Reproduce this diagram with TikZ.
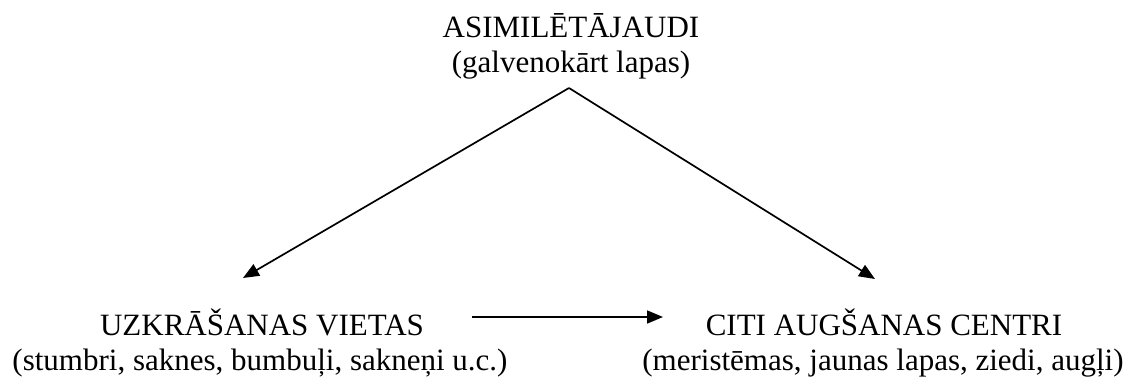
\documentclass[tikz,border=0pt]{standalone}
\usepackage{fontspec}
\setmainfont{Liberation Serif}
\usetikzlibrary{arrows.meta}
\tikzset{
  lbl/.style={anchor=base, inner sep=0pt, font=\fontsize{31}{35}\selectfont},
  conn/.style={line width=1.7pt, -{Triangle[length=16pt,width=13pt]}}
}
\begin{document}
\begin{tikzpicture}[x=1pt,y=-1pt]
\useasboundingbox (0,0) rectangle (1136,380);
% top block
\node[lbl] (asim) at (571,37) {ASIMILĒTĀJAUDI};
\node[lbl] (asimsub) at (571,72) {(galvenokārt lapas)};
% bottom left block
\node[lbl] (uzkr) at (262,335) {UZKRĀŠANAS VIETAS};
\node[lbl] (uzkrsub) at (260,370) {(stumbri, saknes, bumbuļi, sakneņi u.c.)};
% bottom right block
\node[lbl] (citi) at (884,335) {CITI AUGŠANAS CENTRI};
\node[lbl] (citisub) at (883,370) {(meristēmas, jaunas lapas, ziedi, augļi)};
% connector points
\coordinate (apex) at (569,88);
\coordinate (ltip) at (243,278);
\coordinate (rtip) at (875,279);
\coordinate (hstart) at (472,317);
\coordinate (hend) at (663,317);
\draw[conn] (apex) -- (ltip);
\draw[conn] (apex) -- (rtip);
\draw[conn] (hstart) -- (hend);
\end{tikzpicture}
\end{document}
